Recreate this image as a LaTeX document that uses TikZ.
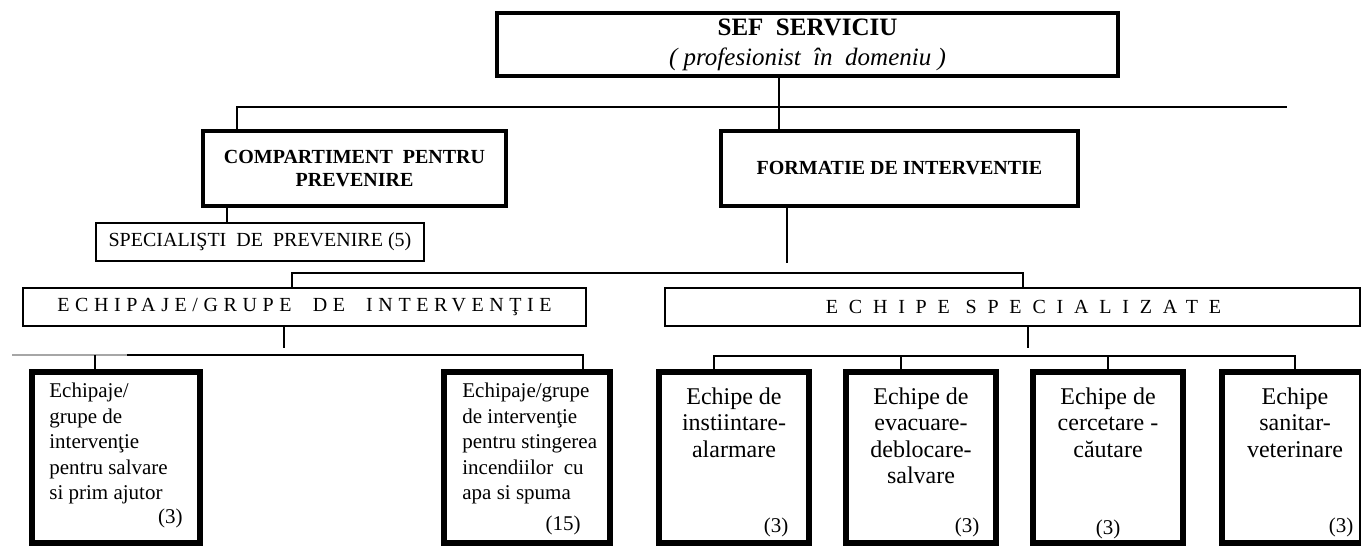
\documentclass[tikz,border=0pt]{standalone}
\usepackage{fontspec}
\setmainfont{Liberation Serif}

\begin{document}
\begin{tikzpicture}[x=0.5pt,y=-0.5pt]
	\tikzstyle{every node}=[inner sep=0pt, rectangle]
	\tikzstyle{headbox}=[draw, line width=2.2pt, align=center]
	\tikzstyle{teambox}=[draw, line width=2.6pt, minimum height=85.5pt]
	\tikzstyle{flatbox}=[draw, line width=0.7pt, align=center, minimum height=19pt]
	\tikzstyle{wire}=[line width=0.7pt]
	\tikzstyle{teamtext}=[anchor=north west, align=left, font=\fontsize{10.5}{12.75}\selectfont]
	\tikzstyle{spectext}=[anchor=north, align=center, font=\fontsize{12}{13.3}\selectfont]
	\tikzstyle{count}=[font=\fontsize{10.5}{12}\selectfont]
	\useasboundingbox (0,0) rectangle (1361,546);
	\draw (807.5,44.5) node (sef) [headbox, minimum width=310.5pt, minimum height=31.5pt, font=\fontsize{12.5}{15}\selectfont] {\textbf{SEF~~SERVICIU}\\\textit{( profesionist~~în~~domeniu )}};
	\draw (354.5,168.5) node (comp) [headbox, minimum width=151.5pt, minimum height=37.5pt, font=\fontsize{10}{11.5}\selectfont\bfseries] {COMPARTIMENT~~PENTRU\\PREVENIRE};
	\draw (899.5,168.5) node (form) [headbox, minimum width=178.5pt, minimum height=37.5pt, font=\fontsize{10}{11.5}\selectfont\bfseries] {FORMATIE~DE~INTERVENTIE};
	\draw (260,242) node (spec) [flatbox, minimum width=164pt, font=\fontsize{10}{12}\selectfont] {SPECIALIŞTI~~DE~~PREVENIRE~(5)};
	\draw (304.5,307) node (echi) [flatbox, minimum width=281.5pt, font=\fontsize{10}{12}\selectfont\addfontfeature{LetterSpace=28}] {ECHIPAJE/GRUPE~~DE~~INTERVENŢIE};
	\draw (1012.5,307) node (echs) [flatbox, minimum width=347.5pt, font=\fontsize{10}{12}\selectfont\addfontfeature{LetterSpace=54}] {\hspace*{11pt}ECHIPE~SPECIALIZATE};
	\draw (116,457.5) node (salv) [teambox, minimum width=84pt] {};
	\draw (527,457.5) node (stin) [teambox, minimum width=83pt] {};
	\draw (734,457.5) node (inst) [teambox, minimum width=75pt] {};
	\draw (921,457.5) node (evac) [teambox, minimum width=75pt] {};
	\draw (1108,457.5) node (cerc) [teambox, minimum width=75pt] {};
	\draw (1292,457.5) node (sanit) [teambox, minimum width=70pt] {};
	\draw (49,383) node (salvt) [teamtext] {Echipaje/\\grupe de\\intervenţie\\pentru salvare\\si prim ajutor};
	\draw (183,518) node (salvn) [count, anchor=east] {(3)};
	\draw (462,383) node (stint) [teamtext] {Echipaje/grupe\\de intervenţie\\pentru stingerea\\incendiilor~ cu\\apa si spuma};
	\draw (581,525) node (stinn) [count, anchor=east] {(15)};
	\draw (734,387) node (instt) [spectext] {Echipe de\\instiintare-\\alarmare};
	\draw (921,387) node (evact) [spectext] {Echipe de\\evacuare-\\deblocare-\\salvare};
	\draw (1108,387) node (cerct) [spectext] {Echipe de\\cercetare -\\căutare};
	\draw (1295,387) node (sanitt) [spectext] {Echipe\\sanitar-\\veterinare};
	\draw (776,527) node (instn) [count] {(3)};
	\draw (967,527) node (evacn) [count] {(3)};
	\draw (1108,529) node (cercn) [count] {(3)};
	\draw (1341,527) node (sanitn) [count] {(3)};
	\coordinate (topl) at (237,107);
	\coordinate (topm) at (779,107);
	\coordinate (topr) at (1287,107);
	\draw[wire] (comp.north -| topl) -- (topl) -- (topr);
	\draw[wire] (sef.south -| topm) -- (form.north -| topm);
	\coordinate (compd) at (227,215);
	\draw[wire] (comp.south -| compd) -- (spec.north -| compd);
	\coordinate (formd) at (787,263);
	\draw[wire] (form.south -| formd) -- (formd);
	\coordinate (midl) at (292,273);
	\coordinate (midr) at (1023,273);
	\draw[wire] (echi.north -| midl) -- (midl) -- (midr) -- (echs.north -| midr);
	\coordinate (echid) at (284,348);
	\draw[wire] (echi.south -| echid) -- (echid);
	\coordinate (lowl) at (12,355);
	\coordinate (lowg) at (127,355);
	\coordinate (lowr) at (583,355);
	\coordinate (salvd) at (95,355);
	\draw[wire] (lowl) -- (lowr) -- (stin.north -| lowr);
	\draw[gray!70, line width=1.1pt] (lowl) -- (lowg);
	\draw[wire] (salvd) -- (salv.north -| salvd);
	\coordinate (echsd) at (1028,348);
	\draw[wire] (echs.south -| echsd) -- (echsd);
	\coordinate (spl) at (714,356);
	\coordinate (spm) at (901,356);
	\coordinate (spr) at (1295,356);
	\draw[wire] (inst.north -| spl) -- (spl) -- (spr) -- (sanit.north -| spr);
	\draw[wire] (spm) -- (evac.north -| spm);
	\draw[wire] (cerc.north |- spm) -- (cerc.north);
\end{tikzpicture}
\end{document}
